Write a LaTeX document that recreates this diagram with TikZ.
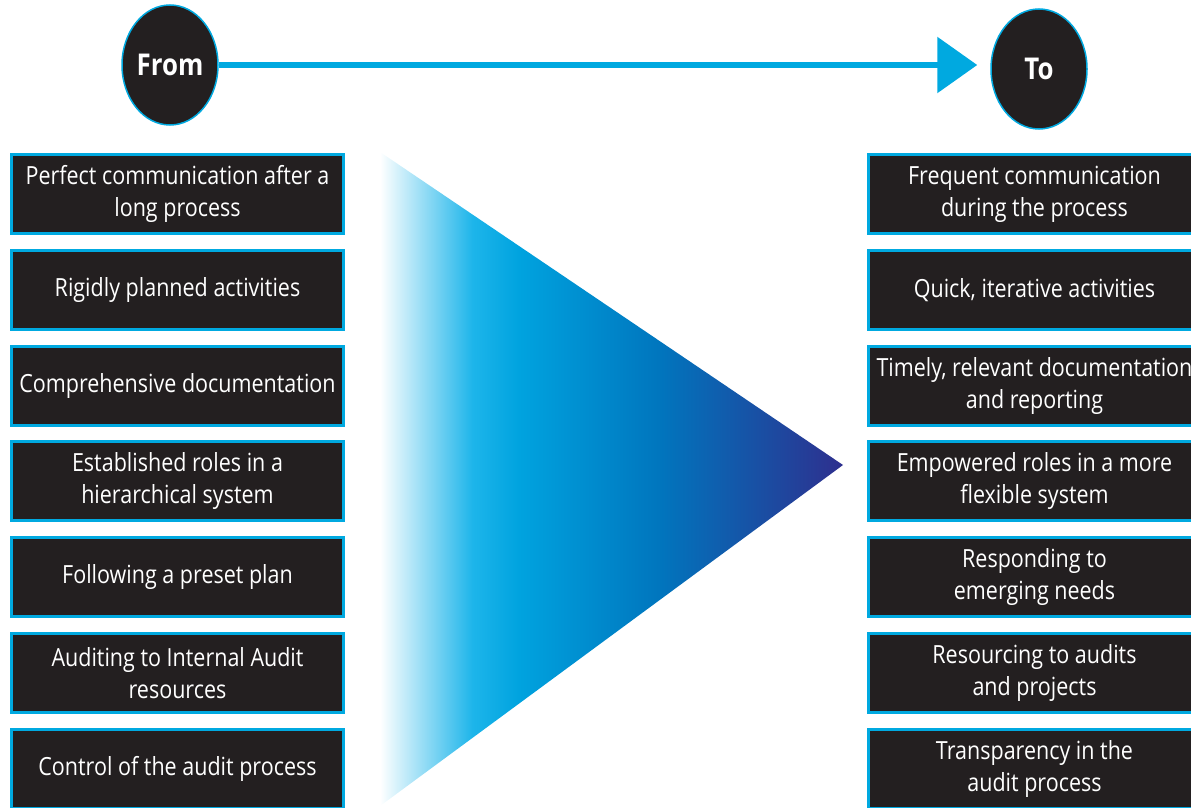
\documentclass[tikz,border=0pt]{standalone}
\usepackage{fontspec}
\setmainfont[FakeStretch=0.86]{Open Sans}
\usetikzlibrary{arrows.meta,shapes.geometric}

\definecolor{auditcyan}{HTML}{00A9E0}
\definecolor{auditink}{HTML}{231F20}
\definecolor{fadeA}{HTML}{1DB5EA}
\definecolor{fadeB}{HTML}{00A3DF}
\definecolor{fadeC}{HTML}{0076BE}
\definecolor{fadeD}{HTML}{2E2F8E}

\pgfdeclarehorizontalshading{towardsto}{100bp}{color(0bp)=(white); color(25bp)=(white); color(29.5bp)=(fadeA!45!white); color(35bp)=(fadeA); color(40bp)=(fadeB); color(55bp)=(fadeC); color(75bp)=(fadeD); color(100bp)=(fadeD)}

\tikzset{
  itembox/.style={draw=auditcyan, line width=3pt, fill=auditink, text=white,
    minimum width=332pt, minimum height=79pt, inner sep=0pt, align=center,
    font=\fontsize{25}{32}\selectfont},
  endpoint/.style={ellipse, draw=auditcyan, line width=1.5pt, fill=auditink,
    text=white, minimum width=96pt, minimum height=120pt, inner sep=0pt,
    font=\fontsize{30}{32}\selectfont\bfseries}
}

\begin{document}
\begin{tikzpicture}[x=1pt,y=-1pt]
\useasboundingbox (0,0) rectangle (1191,808);
\clip (0,0) rectangle (1191,808);

\shade[shading=towardsto] (380,152) -- (843,465) -- (380,806) -- cycle;

\node[endpoint] (from) at (170,65) {From};
\node[endpoint] (to) at (1039,69) {To};
\draw[auditcyan, line width=6pt, -{Triangle[length=40pt,width=55pt]}, shorten >=13pt]
  (from.east) -- (from.east -| to.west);

\foreach \txt [count=\i] in {{Perfect communication after a\\long process},
    {Rigidly planned activities}, {Comprehensive documentation},
    {Established roles in a\\hierarchical system}, {Following a preset plan},
    {Auditing to Internal Audit\\resources}, {Control of the audit process}} {
  \node[itembox] (old\i) at (177.5, 194 + 95.8*\i - 95.8) {\txt};
}

\foreach \txt [count=\i] in {{Frequent communication\\during the process},
    {Quick, iterative activities}, {Timely, relevant documentation\\and reporting},
    {Empowered roles in a more\\flexible system}, {Responding to\\emerging needs},
    {Resourcing to audits\\and projects}, {Transparency in the\\audit process}} {
  \node[itembox] (new\i) at (1034.5, 194 + 95.8*\i - 95.8) {\txt};
}
\end{tikzpicture}
\end{document}
